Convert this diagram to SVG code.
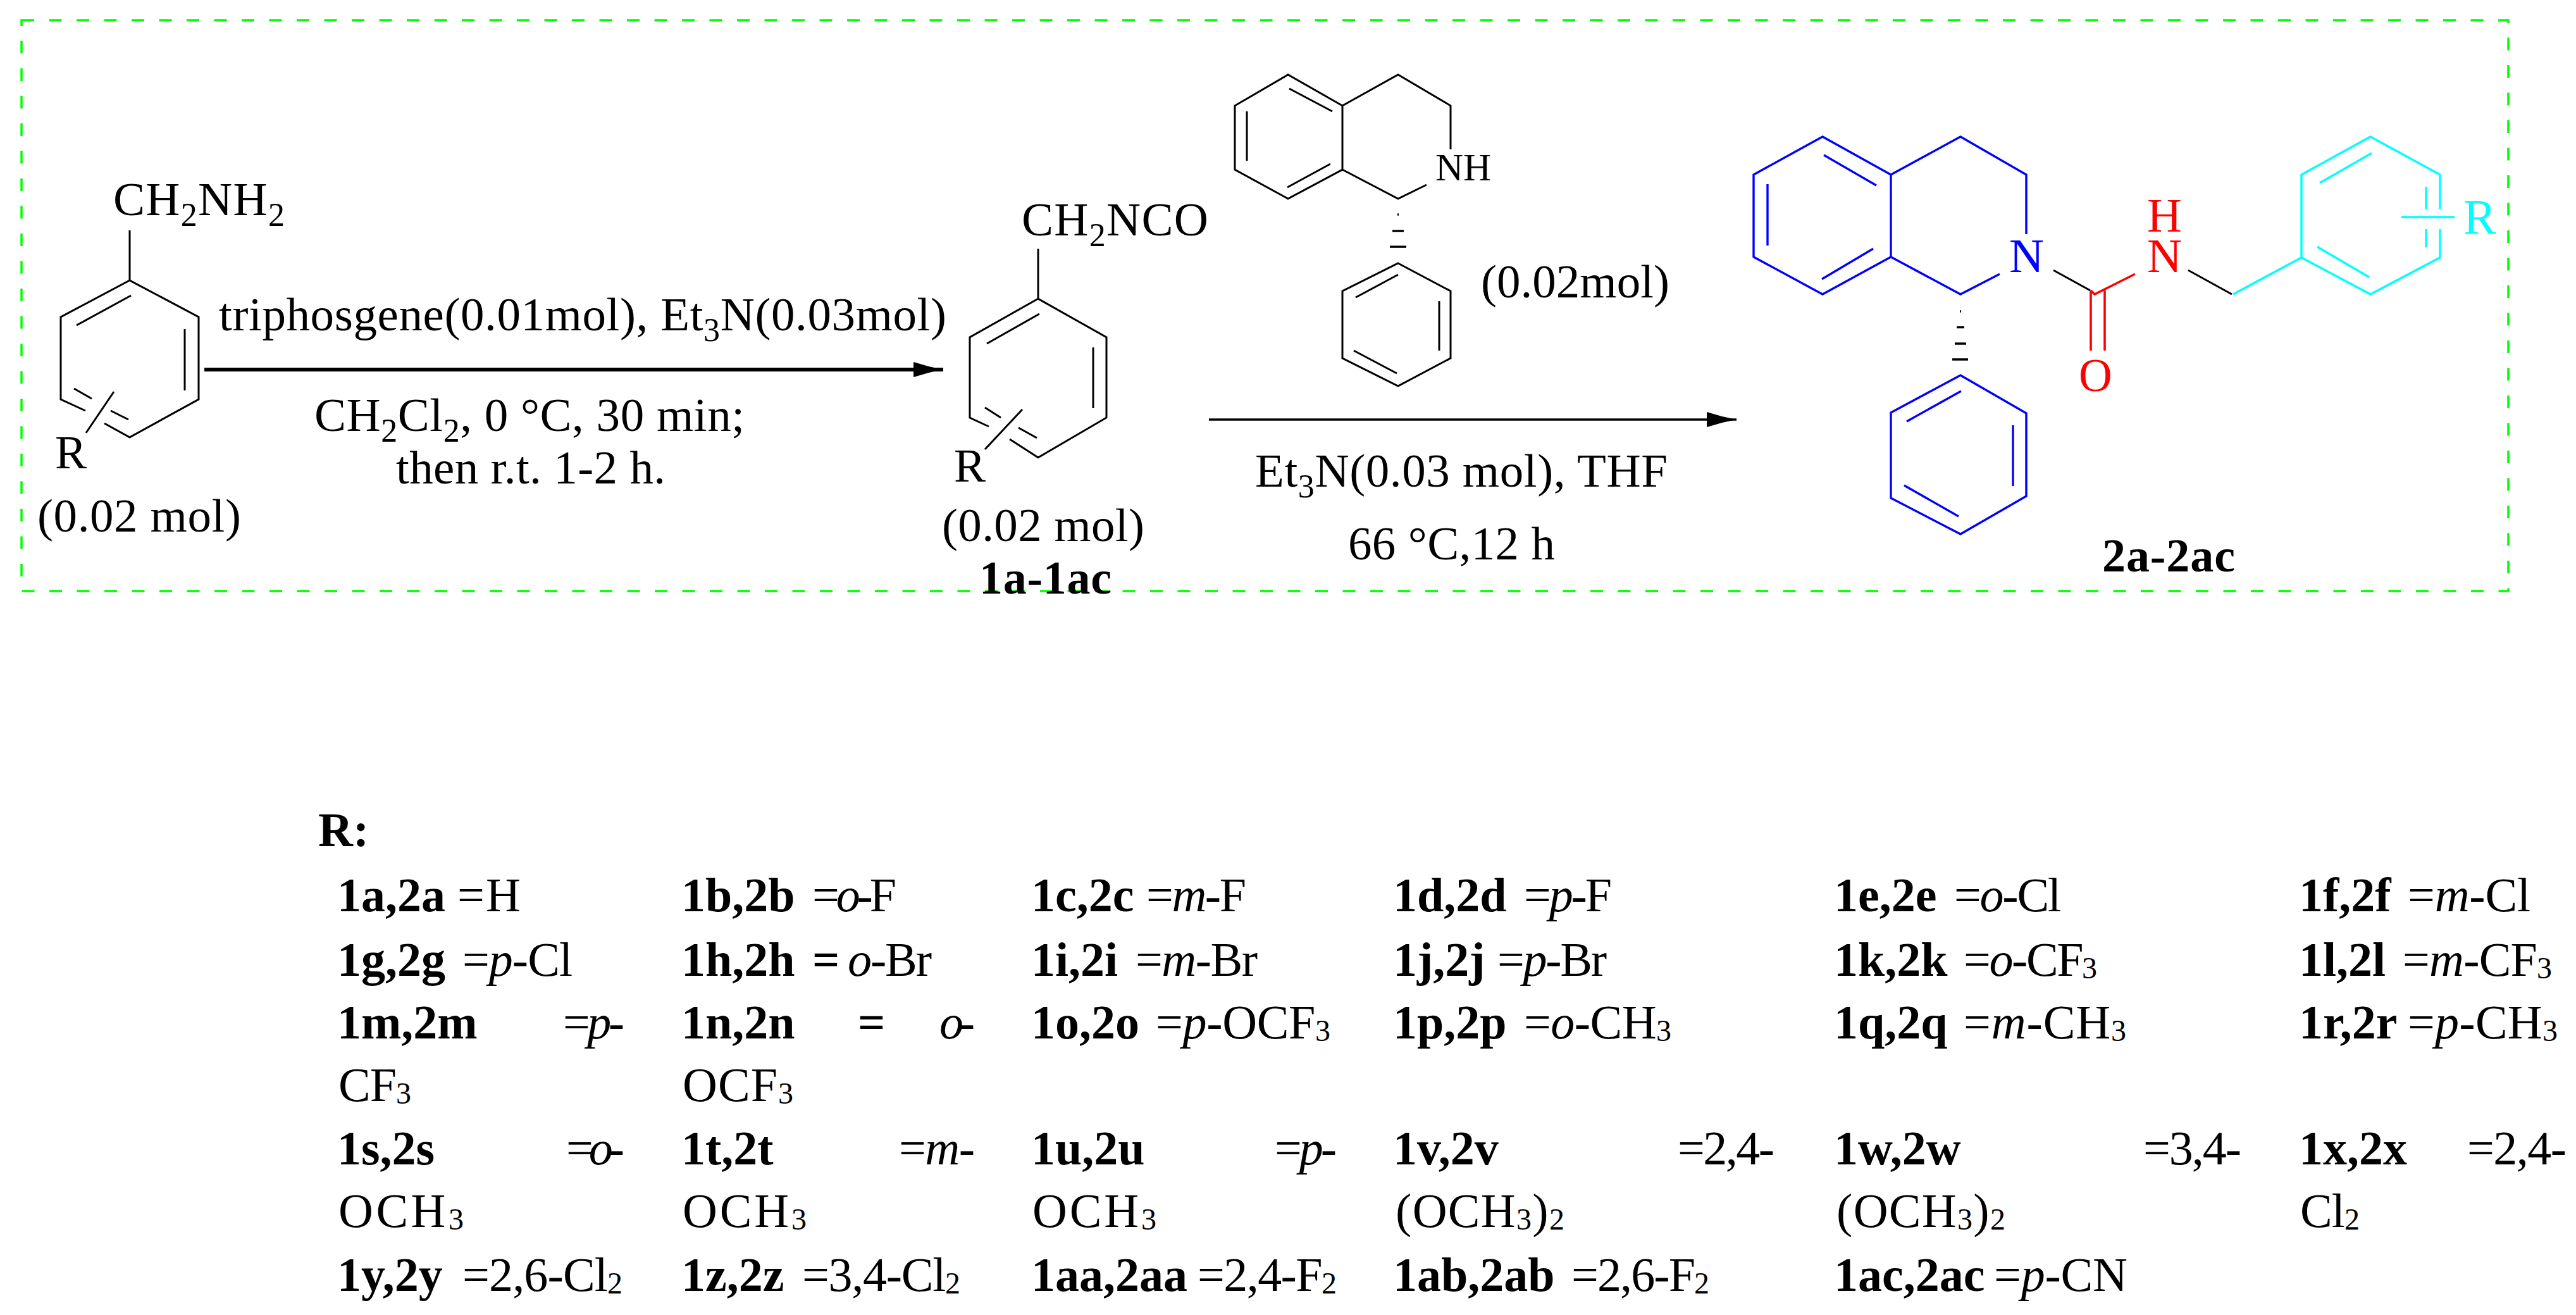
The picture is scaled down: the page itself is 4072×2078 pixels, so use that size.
<svg xmlns="http://www.w3.org/2000/svg" width="4072" height="2078" viewBox="0 0 4072 2078">
<style>
text{font-family:"Liberation Serif","Times New Roman",serif;fill:#000}
.s{font-size:75px}
.sb{font-size:74px;font-weight:bold}
.t{font-size:76px}
.b{font-weight:bold}
.i{font-style:italic}
.bd{fill:none;stroke:#000;stroke-width:3;stroke-linecap:butt;stroke-linejoin:miter}
.blue{stroke:#0000ff;stroke-width:3.4}
.red{stroke:#ff0000;stroke-width:3.6}
.cy{stroke:#00ffff;stroke-width:3.4}
.hash{stroke-width:3.6}
.frame{fill:none;stroke:#00ff00;stroke-width:3.5;stroke-dasharray:20 23.5}
</style>
<defs>
<marker id="head" markerUnits="userSpaceOnUse" markerWidth="48" markerHeight="26" refX="47" refY="13" orient="auto"><path d="M0,1 L24,8 L47,13 L24,18 L0,25 Z" fill="#000"/></marker>
</defs>
<rect id="frame" class="frame" x="34" y="32" width="3931" height="902"/>
<g id="connectors">
<line x1="323" y1="584" x2="1491" y2="584" stroke="#000" stroke-width="6" marker-end="url(#head)"/>
<line x1="1911" y1="663" x2="2745" y2="663" stroke="#000" stroke-width="3.6" marker-end="url(#head)"/>
</g>
<g id="amine">
<path class="bd" d="M205,364V443L314,501V631L205,691L165,669M135,649L96,631V501L205,443M121,514L207,467M292,520V617M117,614L145,630M175,649L203,663M180,619L136,684"/>
<text class="s" x="179" y="340" textLength="271">CH<tspan font-size="52" dy="17">2</tspan><tspan dy="-17">NH</tspan><tspan font-size="52" dy="17">2</tspan></text>
<text class="s" x="87" y="740">R</text>
<text class="s" x="59" y="840" textLength="322">(0.02 mol)</text>
</g>
<g id="conditions-1">
<text class="s" x="346" y="522" textLength="1150">triphosgene(0.01mol), Et<tspan font-size="52" dy="17">3</tspan><tspan dy="-17">N(0.03mol)</tspan></text>
<text class="s" x="497" y="681" textLength="680">CH<tspan font-size="52" dy="17">2</tspan><tspan dy="-17">Cl</tspan><tspan font-size="52" dy="17">2</tspan><tspan dy="-17">, 0 °C, 30 min;</tspan></text>
<text class="s" x="626" y="764" textLength="426">then r.t. 1-2 h.</text>
</g>
<g id="isocyanate">
<path class="bd" d="M1641,393V472L1749,533V660L1641,723L1596,694M1563,674L1533,660V533L1641,472M1560,543L1643,496M1728,549V645M1557,644L1582,660M1610,676L1639,692M1616,647L1557,710"/>
<text class="s" x="1615" y="372" textLength="295">CH<tspan font-size="52" dy="17">2</tspan><tspan dy="-17">NCO</tspan></text>
<text class="s" x="1508" y="761">R</text>
<text class="s" x="1489" y="855" textLength="320">(0.02 mol)</text>
<text class="sb" x="1548" y="938" textLength="209">1a-1ac</text>
</g>
<g id="tetrahydroisoquinoline">
<path class="bd" d="M2122,167L2036,118L1952,167V268L2036,314L2122,268ZM1971,176V254M2038,140L2106,176M2035,296L2103,259M2122,167L2210,118L2293,167V236M2122,268L2210,314L2255,292"/>
<path class="bd hash" d="M2209,339H2211M2201,365H2219M2197,390H2223"/>
<path class="bd" d="M2210,416L2293,460V566L2210,610L2122,566V460ZM2143,470L2210,434M2275,476V554M2140,554L2208,590"/>
<text x="2269" y="285" font-size="61" textLength="88">NH</text>
<text class="s" x="2341" y="470" textLength="298">(0.02mol)</text>
</g>
<g id="conditions-2">
<text class="s" x="1984" y="769" textLength="652">Et<tspan font-size="52" dy="17">3</tspan><tspan dy="-17">N(0.03 mol), THF</tspan></text>
<text class="s" x="2131" y="884" textLength="327">66 °C,12 h</text>
</g>
<g id="product">
<path class="bd blue" d="M2881,216L2772,276V406L2881,465L2989,406V276ZM2794,291V388M2883,245L2966,293M2880,441L2961,393M2989,276L3099,216L3203,276V370M2989,406L3099,465L3161,433"/>
<path class="bd hash" d="M3098,492H3100M3093,517H3105M3090,543H3108M3086,568H3111"/>
<path class="bd blue" d="M3099,593L3203,653V784L3099,844L2989,787V652ZM3182,672V768M3014,666L3100,618M3010,767L3096,816"/>
<path class="bd" d="M3246,427L3304,459M3459,427L3528,465"/>
<path class="bd red" d="M3305,459L3311,465L3375,433M3305,459V554M3327,459V554"/>
<path class="bd cy" d="M3530,465L3638,407M3638,407V276L3747,216L3857,276V331M3857,362V407L3747,465L3638,407M3667,289L3749,242M3663,390L3745,438M3835,295V331M3835,362V391M3796,343H3880"/>
<text x="3176" y="430" font-size="76" style="fill:#0000ff">N</text>
<text x="3394" y="430" font-size="76" style="fill:#ff0000">N</text>
<text x="3394" y="366" font-size="76" style="fill:#ff0000">H</text>
<text x="3286" y="618" font-size="73" style="fill:#ff0000">O</text>
<text x="3894" y="369" font-size="78" style="fill:#00ffff">R</text>
<text class="sb" x="3323" y="903" textLength="210">2a-2ac</text>
</g>
<g id="r-table" class="t">
<text class="t b" x="503" y="1337">R:</text>
<g id="row-1">
<text class="t b" x="533" y="1440">1a,2a</text><text class="t" x="723" y="1440" textLength="100">=H</text>
<text class="t b" x="1077" y="1440">1b,2b</text><text class="t" x="1284" y="1440" textLength="133">=<tspan class="i">o</tspan>-F</text>
<text class="t b" x="1630" y="1440">1c,2c</text><text class="t" x="1812" y="1440" textLength="158">=<tspan class="i">m</tspan>-F</text>
<text class="t b" x="2202" y="1440">1d,2d</text><text class="t" x="2409" y="1440" textLength="139">=<tspan class="i">p</tspan>-F</text>
<text class="t b" x="2899" y="1440">1e,2e</text><text class="t" x="3089" y="1440" textLength="169">=<tspan class="i">o</tspan>-Cl</text>
<text class="t b" x="3634" y="1440">1f,2f</text><text class="t" x="3806" y="1440" textLength="194">=<tspan class="i">m</tspan>-Cl</text>
</g>
<g id="row-2">
<text class="t b" x="533" y="1542">1g,2g</text><text class="t" x="731" y="1542" textLength="174">=<tspan class="i">p</tspan>-Cl</text>
<text class="t b" x="1077" y="1542">1h,2h</text><text class="t b" x="1284" y="1542">=</text><text class="t" x="1340" y="1542" textLength="133"><tspan class="i">o</tspan>-Br</text>
<text class="t b" x="1630" y="1542">1i,2i</text><text class="t" x="1795" y="1542" textLength="193">=<tspan class="i">m</tspan>-Br</text>
<text class="t b" x="2202" y="1542">1j,2j</text><text class="t" x="2367" y="1542" textLength="173">=<tspan class="i">p</tspan>-Br</text>
<text class="t b" x="2899" y="1542">1k,2k</text><text class="t" x="3104" y="1542" textLength="211">=<tspan class="i">o</tspan>-CF<tspan font-size="48" dy="4">3</tspan></text>
<text class="t b" x="3634" y="1542">1l,2l</text><text class="t" x="3798" y="1542" textLength="236">=<tspan class="i">m</tspan>-CF<tspan font-size="48" dy="4">3</tspan></text>
</g>
<g id="row-3">
<text class="t b" x="533" y="1641">1m,2m</text><text class="t" x="890" y="1641" textLength="97">=<tspan class="i">p</tspan>-</text>
<text class="t b" x="1077" y="1641">1n,2n</text><text class="t b" x="1356" y="1641">=</text><text class="t" x="1485" y="1641" textLength="56"><tspan class="i">o</tspan>-</text>
<text class="t b" x="1630" y="1641">1o,2o</text><text class="t" x="1827" y="1641" textLength="276">=<tspan class="i">p</tspan>-OCF<tspan font-size="48" dy="4">3</tspan></text>
<text class="t b" x="2202" y="1641">1p,2p</text><text class="t" x="2409" y="1641" textLength="233">=<tspan class="i">o</tspan>-CH<tspan font-size="48" dy="4">3</tspan></text>
<text class="t b" x="2899" y="1641">1q,2q</text><text class="t" x="3104" y="1641" textLength="257">=<tspan class="i">m</tspan>-CH<tspan font-size="48" dy="4">3</tspan></text>
<text class="t b" x="3634" y="1641">1r,2r</text><text class="t" x="3806" y="1641" textLength="237">=<tspan class="i">p</tspan>-CH<tspan font-size="48" dy="4">3</tspan></text>
</g>
<g id="row-4">
<text class="t" x="535" y="1740" textLength="115">CF<tspan font-size="48" dy="4">3</tspan></text>
<text class="t" x="1079" y="1740" textLength="175">OCF<tspan font-size="48" dy="4">3</tspan></text>
</g>
<g id="row-5">
<text class="t b" x="533" y="1840">1s,2s</text><text class="t" x="895" y="1840" textLength="92">=<tspan class="i">o</tspan>-</text>
<text class="t b" x="1077" y="1840">1t,2t</text><text class="t" x="1421" y="1840" textLength="120">=<tspan class="i">m</tspan>-</text>
<text class="t b" x="1630" y="1840">1u,2u</text><text class="t" x="2015" y="1840" textLength="98">=<tspan class="i">p</tspan>-</text>
<text class="t b" x="2202" y="1840">1v,2v</text><text class="t" x="2652" y="1840" textLength="153">=2,4-</text>
<text class="t b" x="2899" y="1840">1w,2w</text><text class="t" x="3388" y="1840" textLength="155">=3,4-</text>
<text class="t b" x="3634" y="1840">1x,2x</text><text class="t" x="3900" y="1840" textLength="157">=2,4-</text>
</g>
<g id="row-6">
<text class="t" x="535" y="1939" textLength="198">OCH<tspan font-size="48" dy="4">3</tspan></text>
<text class="t" x="1079" y="1939" textLength="196">OCH<tspan font-size="48" dy="4">3</tspan></text>
<text class="t" x="1632" y="1939" textLength="196">OCH<tspan font-size="48" dy="4">3</tspan></text>
<text class="t" x="2206" y="1939" textLength="267">(OCH<tspan font-size="48" dy="4">3</tspan><tspan dy="-4">)</tspan><tspan font-size="48" dy="4">2</tspan></text>
<text class="t" x="2903" y="1939" textLength="267">(OCH<tspan font-size="48" dy="4">3</tspan><tspan dy="-4">)</tspan><tspan font-size="48" dy="4">2</tspan></text>
<text class="t" x="3636" y="1939" textLength="94">Cl<tspan font-size="48" dy="4">2</tspan></text>
</g>
<g id="row-7">
<text class="t b" x="533" y="2040">1y,2y</text><text class="t" x="731" y="2040" textLength="253">=2,6-Cl<tspan font-size="48" dy="4">2</tspan></text>
<text class="t b" x="1077" y="2040">1z,2z</text><text class="t" x="1268" y="2040" textLength="250">=3,4-Cl<tspan font-size="48" dy="4">2</tspan></text>
<text class="t b" x="1630" y="2040">1aa,2aa</text><text class="t" x="1893" y="2040" textLength="220">=2,4-F<tspan font-size="48" dy="4">2</tspan></text>
<text class="t b" x="2202" y="2040">1ab,2ab</text><text class="t" x="2484" y="2040" textLength="218">=2,6-F<tspan font-size="48" dy="4">2</tspan></text>
<text class="t b" x="2899" y="2040">1ac,2ac</text><text class="t" x="3152" y="2040" textLength="211">=<tspan class="i">p</tspan>-CN</text>
</g>
</g>
</svg>
